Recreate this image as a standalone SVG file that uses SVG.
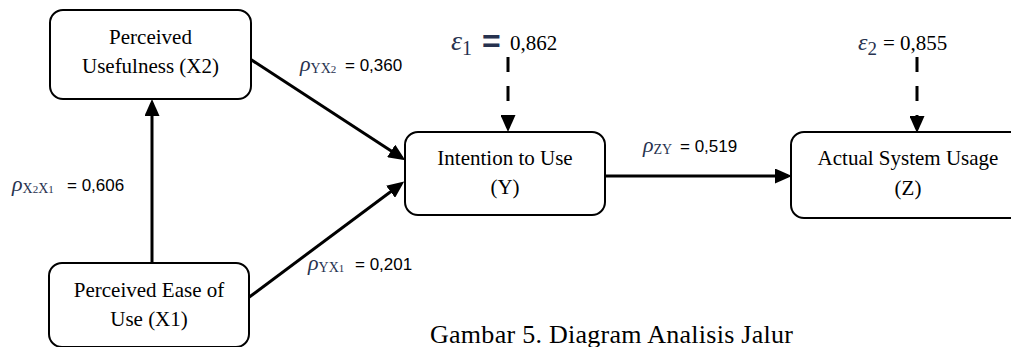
<svg xmlns="http://www.w3.org/2000/svg" width="1011" height="347" viewBox="0 0 1011 347">
  <style>
    .box { fill: #ffffff; stroke: #000000; stroke-width: 2; }
    .label { font-family: "Liberation Serif", "Times New Roman", serif; font-size: 21px; fill: #000000; text-anchor: middle; }
    .coef { font-family: "Liberation Sans", Arial, sans-serif; font-size: 17px; fill: #000000; }
    .sym { font-family: "Liberation Serif", "DejaVu Serif", serif; font-style: italic; fill: #27324f; }
    .sub { font-family: "Liberation Serif", "DejaVu Serif", serif; fill: #27324f; }
    .err { font-family: "Liberation Serif", "Times New Roman", serif; font-size: 21px; fill: #000000; }
    .edge { stroke: #000000; stroke-width: 3; fill: none; marker-end: url(#head); }
    .dash { stroke-dasharray: 15 14; }
    .caption { font-family: "Liberation Serif", "Times New Roman", serif; font-size: 26px; fill: #000000; }
  </style>
  <defs>
    <marker id="head" markerUnits="userSpaceOnUse" markerWidth="17" markerHeight="15" refX="13" refY="7.5" orient="auto">
      <path d="M0,0 L17,7.5 L0,15 z" fill="#000000"/>
    </marker>
  </defs>

  <!-- path connectors -->
  <g id="connectors">
    <line class="edge" x1="152" y1="263" x2="152" y2="103"/>
    <line class="edge" x1="247" y1="57" x2="402" y2="158"/>
    <line class="edge" x1="248" y1="298" x2="401" y2="184"/>
    <line class="edge" x1="605" y1="176" x2="788" y2="176"/>
    <line class="edge dash" x1="508" y1="57" x2="508" y2="128"/>
    <line class="edge dash" x1="917" y1="57" x2="917" y2="129"/>
  </g>

  <g id="node-x2">
    <rect class="box" x="50" y="10" width="201" height="89" rx="13"/>
    <text class="label" x="150.5" y="44">Perceived</text>
    <text class="label" x="150.5" y="73">Usefulness (X2)</text>
  </g>

  <g id="node-x1">
    <rect class="box" x="49" y="263" width="200" height="84" rx="13"/>
    <text class="label" x="149" y="297">Perceived Ease of</text>
    <text class="label" x="149" y="326">Use (X1)</text>
  </g>

  <g id="node-y">
    <rect class="box" x="405" y="132" width="200" height="83" rx="13"/>
    <text class="label" x="505" y="165">Intention to Use</text>
    <text class="label" x="505" y="194">(Y)</text>
  </g>

  <g id="node-z">
    <rect class="box" x="791" y="132" width="240" height="86" rx="13"/>
    <text class="label" x="908" y="165">Actual System Usage</text>
    <text class="label" x="908" y="195">(Z)</text>
  </g>

  <!-- path coefficients -->
  <g id="coefficients">
    <text x="300" y="71"><tspan class="sym" font-size="22">ρ</tspan><tspan class="sub" font-size="14" dy="2">YX</tspan><tspan class="sub" font-size="11">2</tspan></text>
    <text class="coef" x="345" y="71">= 0,360</text>

    <text x="12" y="191"><tspan class="sym" font-size="22">ρ</tspan><tspan class="sub" font-size="14" dy="2">X</tspan><tspan class="sub" font-size="11">2</tspan><tspan class="sub" font-size="14">X</tspan><tspan class="sub" font-size="11">1</tspan></text>
    <text class="coef" x="67" y="191">= 0,606</text>

    <text x="308" y="270"><tspan class="sym" font-size="22">ρ</tspan><tspan class="sub" font-size="14" dy="2">YX</tspan><tspan class="sub" font-size="11">1</tspan></text>
    <text class="coef" x="355" y="270">= 0,201</text>

    <text x="643" y="152"><tspan class="sym" font-size="22">ρ</tspan><tspan class="sub" font-size="14" dy="2">ZY</tspan></text>
    <text class="coef" x="680" y="152">= 0,519</text>
  </g>

  <!-- residual terms -->
  <g id="residuals">
    <text x="451" y="50"><tspan class="sym" font-size="28">ε</tspan><tspan class="sub" font-size="20" dy="5">1</tspan></text>
    <text x="482" y="52" font-family="Liberation Sans, Arial, sans-serif" font-size="32" font-weight="bold" fill="#27324f">=</text>
    <text class="err" x="510" y="50">0,862</text>

    <text x="858" y="50"><tspan class="sym" font-size="24">ε</tspan><tspan class="sub" font-size="19" dy="5">2</tspan></text>
    <text class="err" x="883" y="50">= 0,855</text>
  </g>

  <text class="caption" x="430" y="343" textLength="363">Gambar 5. Diagram Analisis Jalur</text>
</svg>
